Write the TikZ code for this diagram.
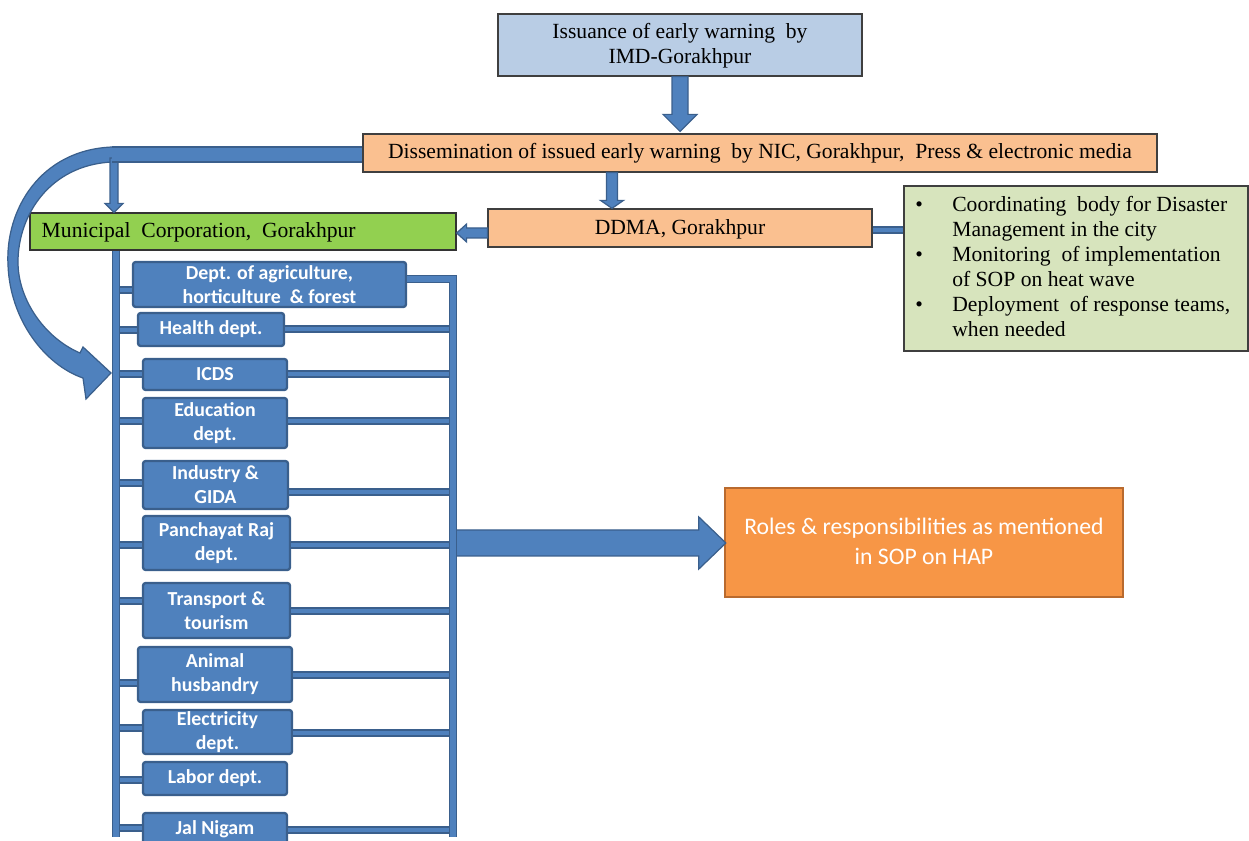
\documentclass[tikz,border=0pt]{standalone}
\usepackage{fontspec}
\setmainfont{Liberation Serif}
\newfontfamily\calfont{Carlito}
\usetikzlibrary{fit,calc}
\definecolor{bblue}{HTML}{4F81BD}
\definecolor{bline}{HTML}{3A5F8C}
\definecolor{imdfill}{HTML}{B9CDE5}
\definecolor{peach}{HTML}{FAC090}
\definecolor{grn}{HTML}{92D050}
\definecolor{sage}{HTML}{D7E4BD}
\definecolor{orng}{HTML}{F79646}
\definecolor{orngline}{HTML}{B96A2E}
\definecolor{boxline}{HTML}{3F3F3F}
\newcommand\myvarrow[5]{\path[blk] ($(#1)+(-#3,0)$) -- ($(#1)+(#3,0)$) -- ($(#2)+(#3,-#5)$) -- ($(#2)+(#4,-#5)$) -- (#2) -- ($(#2)+(-#4,-#5)$) -- ($(#2)+(-#3,-#5)$) -- cycle;}
\newcommand\myharrow[5]{\path[blk] ($(#1)+(0,-#3)$) -- ($(#2)+(#5,-#3)$) -- ($(#2)+(#5,-#4)$) -- (#2) -- ($(#2)+(#5,#4)$) -- ($(#2)+(#5,#3)$) -- ($(#1)+(0,#3)$) -- cycle;}
\begin{document}
\begin{tikzpicture}[x=0.02cm,y=-0.02cm,
 serif/.style={inner sep=0pt, align=center, font=\fontsize{12.3}{14.2}\selectfont},
 pbox/.style={draw=boxline, line width=0.7pt, inner sep=0pt},
 dept/.style={fill=bblue, draw=bline, line width=1.3pt, rounded corners=1.5pt, inner sep=0pt},
 depttxt/.style={inner sep=0pt, align=center, text=white, font=\calfont\bfseries\fontsize{11.3}{13.6}\selectfont},
 blk/.style={fill=bblue, draw=bline, line width=0.7pt, line join=miter},
 stub/.style={draw=bline, line width=0.6pt, double=bblue, double distance=2.8pt},
 vbar/.style={draw=bline, line width=0.6pt, double=bblue, double distance=3.6pt, line join=miter},
]
\useasboundingbox (0,0) rectangle (1249,841);
% top boxes
\node[pbox, fill=imdfill, fit={(498,14) (862,76)}] (imd) {};
\node[serif] (imdT) at ($(imd.center)+(0,1)$) {Issuance of early warning\ \ by\\IMD-Gorakhpur};
\node[pbox, fill=peach, fit={(363,134) (1157,172)}] (dis) {};
\node[serif] (disT) at (dis.center) {Dissemination of issued early warning\ \ by NIC, Gorakhpur,\ \ Press \& electronic media};
\node[pbox, fill=peach, fit={(488,209) (872,247)}] (ddma) {};
\node[serif] (ddmaT) at ($(ddma.center)+(0,1)$) {DDMA, Gorakhpur};
\node[pbox, fill=grn, draw=black!80, fit={(30,213) (456,250)}] (mun) {};
\node[serif, anchor=west] (munT) at ($(mun.west)+(12,1)$) {Municipal\ \ Corporation,\ \ Gorakhpur};
\node[pbox, fill=sage, fit={(904,186) (1248,351)}] (sop) {};
\node[serif, anchor=north west, align=left] (sopT) at (915,196) {%
\makebox[0.74cm][l]{\textbullet}Coordinating\ \ body for Disaster\\
\hspace*{0.74cm}Management in the city\\
\makebox[0.74cm][l]{\textbullet}Monitoring\ \ of implementation\\
\hspace*{0.74cm}of SOP on heat wave\\
\makebox[0.74cm][l]{\textbullet}Deployment\ \ of response teams,\\
\hspace*{0.74cm}when needed};
% departments
\node[dept, fit={(133,262) (406,307)}] (agr) {};
\node[depttxt] (agrT) at (agr.center) {Dept. of agriculture,\\horticulture\ \ \& forest};
\node[dept, fit={(138,313) (284,346)}] (hea) {};
\node[depttxt] (heaT) at (hea.center) {Health dept.};
\node[dept, fit={(143,359) (287,390)}] (icd) {};
\node[depttxt] (icdT) at (icd.center) {ICDS};
\node[dept, fit={(143,398) (287,448)}] (edu) {};
\node[depttxt] (eduT) at (edu.center) {Education\\dept.};
\node[dept, fit={(143,461) (288,509)}] (ind) {};
\node[depttxt] (indT) at (ind.center) {Industry \&\\GIDA};
\node[dept, fit={(143,516) (290,570)}] (pan) {};
\node[depttxt] (panT) at (pan.center) {Panchayat Raj\\dept.};
\node[dept, fit={(143,583) (290,638)}] (tra) {};
\node[depttxt] (traT) at (tra.center) {Transport \&\\tourism};
\node[dept, fit={(138,647) (292,702)}] (ani) {};
\node[depttxt] (aniT) at (ani.center) {Animal\\husbandry};
\node[dept, fit={(143,710) (292,754)}] (ele) {};
\node[depttxt] (eleT) at (ele.center) {Electricity\\dept.};
\node[dept, fit={(143,762) (287,795)}] (lab) {};
\node[depttxt] (labT) at (lab.center) {Labor dept.};
\node[dept, fit={(143,813) (287,850)}] (jal) {};
\node[depttxt] (jalT) at (215,829) {Jal Nigam};
% roles
\node[fit={(725,488) (1123,597)}, fill=orng, draw=orngline, line width=1.3pt, inner sep=0pt] (roles) {};
\node[inner sep=0pt, align=center, text=white, font=\calfont\fontsize{13.5}{17}\selectfont] (rolesT) at ($(roles.center)+(0,-1)$) {Roles \& responsibilities as mentioned\\in SOP on HAP};
% curved arrow
\path[blk] (125,147) -- (112,147) .. controls (40,150) and (5,210) .. (8,265) .. controls (10,320) and (45,365) .. (83,378) -- (86,399) -- (111,373) -- (83,347) -- (80,353) .. controls (45,338) and (18,300) .. (18,262) .. controls (18,215) and (50,165) .. (112,162) -- (125,162) -- cycle;
% arrow down to municipal corporation
\coordinate (vtop) at (114,158);
\coordinate (vtip) at (114,0 |- mun.north);
\myvarrow{vtop}{vtip}{4}{9}{9}
% horizontal bar from dissemination
\fill[bblue] (112,147) rectangle (dis.west |- 0,162);
\draw[bline, line width=0.7pt] (112,147) -- (dis.west |- 0,147) (112,162) -- (dis.west |- 0,162);
% IMD -> dissemination
\coordinate (a1) at (imd.south);
\coordinate (a1t) at ($(imd.south |- dis.north)+(0,-2)$);
\myvarrow{a1}{a1t}{8}{17}{17}
% dissemination -> DDMA
\coordinate (a2) at (612,0 |- dis.south);
\coordinate (a2t) at (612,0 |- ddma.north);
\myvarrow{a2}{a2t}{5.5}{11.5}{8}
% DDMA -> municipal
\coordinate (a3) at (ddma.west |- 0,233);
\coordinate (a3t) at (mun.east |- 0,233);
\myharrow{a3}{a3t}{5}{9}{10}
% DDMA -> SOP box
\draw[stub] (ddma.east |- 0,230) -- (sop.west |- 0,230);
% left stubs
\foreach \n/\y in {agr/290, hea/330, icd/374, edu/421, ind/483, pan/545, tra/601, ani/683, ele/728, lab/780, jal/828}
  \draw[stub] (116,\y) -- (\n.west |- 0,\y);
% right stubs
\foreach \n/\y in {hea/329, icd/374, edu/421, ind/492, pan/545, tra/611, ani/675, ele/733, jal/830}
  \draw[stub] (\n.east |- 0,\y) -- (453,\y);
% big arrow to roles
\coordinate (a4) at (453,543);
\coordinate (a4t) at ($(roles.west |- 0,543)+(2,0)$);
\myharrow{a4}{a4t}{13}{26}{-27}
% bars
\draw[vbar] (agr.east |- 0,279) -- (453,279) -- (453,837);
\draw[vbar] (116,0 |- mun.south) -- (116,837);
\end{tikzpicture}
\end{document}
